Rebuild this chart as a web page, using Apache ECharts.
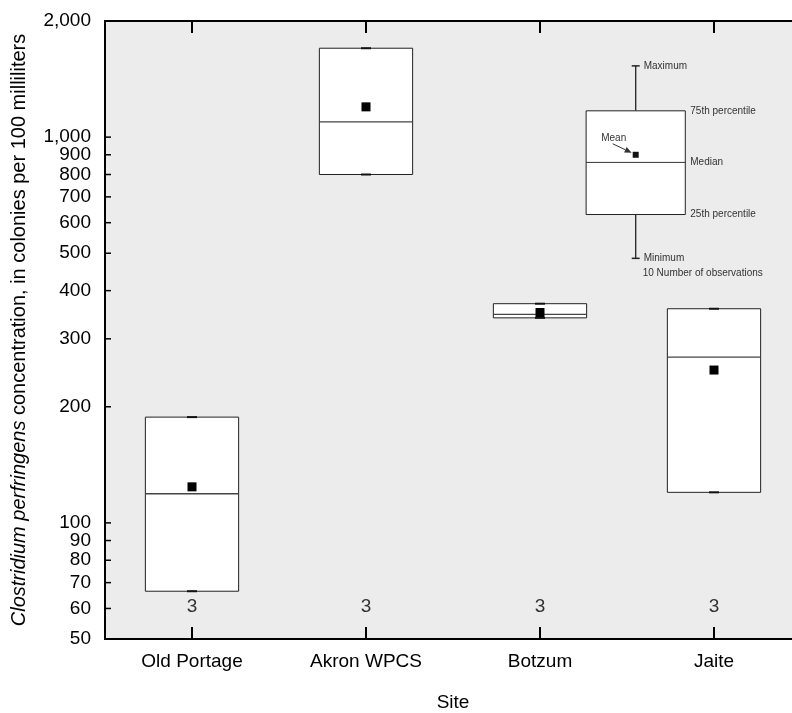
<!DOCTYPE html>
<html>
<head>
<meta charset="utf-8">
<script src="https://cdn.jsdelivr.net/npm/echarts@6/dist/echarts.min.js"></script>
<style>
  html, body { margin: 0; padding: 0; background: #fff; }
  #chart { width: 792px; height: 713px; }
</style>
</head>
<body>
<div id="chart"></div>
<script>
// sites and box statistics (colonies per 100 mL)
const sites = ['Old Portage', 'Akron WPCS', 'Botzum', 'Jaite'];
const minVals = [66.5, 800, 340, 120];
const q1Vals = [66.5, 800, 340, 120];
const medianVals = [119, 1095, 347, 269];
const q3Vals = [188, 1700, 370, 359];
const maxVals = [188, 1700, 370, 359];
const meanVals = [124, 1198, 351, 249];
const counts = [3, 3, 3, 3];

const yTicks = [50, 60, 70, 80, 90, 100, 200, 300, 400, 500, 600, 700, 800, 900, 1000, 2000];

// explanation diagram (top right)
const explainPos = [3.55];
const explainStats = [[485, 630, 860, 1170, 1530, 900, 10]];

const FONT = 'Liberation Sans, Arial, sans-serif';

const chart = echarts.init(document.getElementById('chart'));

function renderBox(params, api) {
  const x = api.value(0);
  const lo = api.value(1), q1 = api.value(2), med = api.value(3);
  const q3 = api.value(4), hi = api.value(5), mean = api.value(6), n = api.value(7);
  const half = 0.268;
  const tl = api.coord([x - half, q3]);
  const br = api.coord([x + half, q1]);
  const cx = api.coord([x, med])[0];
  const yMed = api.coord([x, med])[1];
  const yLo = api.coord([x, lo])[1];
  const yHi = api.coord([x, hi])[1];
  const pm = api.coord([x, mean]);
  const yBottom = api.coord([x, 50])[1];
  return {
    type: 'group',
    children: [
      { type: 'rect', shape: { x: tl[0], y: tl[1], width: br[0] - tl[0], height: br[1] - tl[1] },
        style: { fill: '#fff', stroke: '#222', lineWidth: 1 } },
      { type: 'line', shape: { x1: tl[0], y1: yMed, x2: br[0], y2: yMed },
        style: { stroke: '#444', lineWidth: 1.3 } },
      { type: 'line', shape: { x1: cx, y1: yHi, x2: cx, y2: tl[1] }, style: { stroke: '#111', lineWidth: 2 } },
      { type: 'line', shape: { x1: cx, y1: br[1], x2: cx, y2: yLo }, style: { stroke: '#111', lineWidth: 2 } },
      { type: 'line', shape: { x1: cx - 5, y1: yHi, x2: cx + 5, y2: yHi }, style: { stroke: '#111', lineWidth: 2 } },
      { type: 'line', shape: { x1: cx - 5, y1: yLo, x2: cx + 5, y2: yLo }, style: { stroke: '#111', lineWidth: 2 } },
      { type: 'rect', shape: { x: pm[0] - 4.5, y: pm[1] - 4.5, width: 9, height: 9 }, style: { fill: '#000' } },
      { type: 'text', style: { x: cx, y: yBottom - 32, text: String(n), fill: '#333',
        font: '19px ' + FONT, align: 'center', verticalAlign: 'middle' } }
    ]
  };
}

function renderExplain(params, api) {
  const x = api.value(0);
  const lo = api.value(1), q1 = api.value(2), med = api.value(3);
  const q3 = api.value(4), hi = api.value(5), mean = api.value(6), n = api.value(7);
  const half = 0.285;
  const tl = api.coord([x - half, q3]);
  const br = api.coord([x + half, q1]);
  const cx = api.coord([x, med])[0];
  const yMed = api.coord([x, med])[1];
  const yLo = api.coord([x, lo])[1];
  const yHi = api.coord([x, hi])[1];
  const pm = api.coord([x, mean]);
  const lbl = (tx, ty, text) => ({ type: 'text', style: { x: tx, y: ty, text: text, fill: '#333',
    font: '10px ' + FONT, align: 'left', verticalAlign: 'middle' } });
  const ax1 = pm[0] - 23, ay1 = pm[1] - 11, ax2 = pm[0] - 4, ay2 = pm[1] - 2;
  const ang = Math.atan2(ay2 - ay1, ax2 - ax1);
  const hl = 7, hw = 3;
  const bx = ax2 - hl * Math.cos(ang), by = ay2 - hl * Math.sin(ang);
  return {
    type: 'group',
    children: [
      { type: 'line', shape: { x1: cx, y1: yHi, x2: cx, y2: tl[1] }, style: { stroke: '#222', lineWidth: 1.3 } },
      { type: 'line', shape: { x1: cx, y1: br[1], x2: cx, y2: yLo }, style: { stroke: '#222', lineWidth: 1.3 } },
      { type: 'line', shape: { x1: cx - 4, y1: yHi, x2: cx + 4, y2: yHi }, style: { stroke: '#222', lineWidth: 1.5 } },
      { type: 'line', shape: { x1: cx - 4, y1: yLo, x2: cx + 4, y2: yLo }, style: { stroke: '#222', lineWidth: 1.5 } },
      { type: 'rect', shape: { x: tl[0], y: tl[1], width: br[0] - tl[0], height: br[1] - tl[1] },
        style: { fill: '#fff', stroke: '#222', lineWidth: 1 } },
      { type: 'line', shape: { x1: tl[0], y1: yMed, x2: br[0], y2: yMed }, style: { stroke: '#333', lineWidth: 1 } },
      { type: 'rect', shape: { x: pm[0] - 3, y: pm[1] - 3, width: 6, height: 6 }, style: { fill: '#111' } },
      { type: 'line', shape: { x1: ax1, y1: ay1, x2: bx, y2: by }, style: { stroke: '#333', lineWidth: 1 } },
      { type: 'polygon', shape: { points: [[ax2, ay2],
        [bx + hw * Math.sin(ang), by - hw * Math.cos(ang)],
        [bx - hw * Math.sin(ang), by + hw * Math.cos(ang)]] }, style: { fill: '#333' } },
      { type: 'text', style: { x: pm[0] - 22, y: pm[1] - 17, text: 'Mean', fill: '#333',
        font: '10px ' + FONT, align: 'center', verticalAlign: 'middle' } },
      lbl(cx + 8, yHi, 'Maximum'),
      lbl(br[0] + 5, tl[1], '75th percentile'),
      lbl(br[0] + 5, yMed, 'Median'),
      lbl(br[0] + 5, br[1], '25th percentile'),
      lbl(cx + 8, yLo, 'Minimum'),
      lbl(cx + 7, yLo + 15, n + ' Number of observations')
    ]
  };
}

// inward ticks on the log axis
function renderYTick(params, api) {
  const p = api.coord([0.5, api.value(1)]);
  return { type: 'line', shape: { x1: p[0], y1: p[1], x2: p[0] + 6, y2: p[1] },
    style: { stroke: '#000', lineWidth: 1.5 } };
}

const siteTickVals = sites.map((s, i) => i + 1);

const option = {
  animation: false,
  textStyle: { fontFamily: FONT },
  grid: {
    left: 105, top: 21, right: -9, bottom: 74,
    outerBoundsMode: 'none',
    show: true, backgroundColor: '#ececec', borderWidth: 0
  },
  xAxis: [
    {
      type: 'value', min: 0.5, max: 4.5, position: 'bottom',
      name: 'Site', nameLocation: 'middle', nameGap: 54,
      nameTextStyle: { fontSize: 19, color: '#000', fontFamily: FONT },
      axisLine: { show: true, lineStyle: { color: '#000', width: 2 } },
      axisTick: { show: true, inside: true, length: 12, customValues: siteTickVals,
        lineStyle: { color: '#000', width: 2 } },
      axisLabel: { customValues: siteTickVals, margin: 13, fontSize: 19, color: '#000', fontFamily: FONT,
        formatter: v => sites[Math.round(v) - 1] || '' },
      splitLine: { show: false }
    },
    {
      type: 'value', min: 0.5, max: 4.5, position: 'top',
      axisLine: { show: true, lineStyle: { color: '#000', width: 2 } },
      axisTick: { show: true, inside: true, length: 12, customValues: siteTickVals,
        lineStyle: { color: '#000', width: 2 } },
      axisLabel: { show: false },
      splitLine: { show: false }
    }
  ],
  yAxis: {
    type: 'log', logBase: 10, min: 50, max: 2000,
    name: '{i|Clostridium perfringens} concentration, in colonies per 100 milliliters',
    nameLocation: 'middle', nameGap: 76, nameRotate: 90,
    nameTextStyle: { fontSize: 20, color: '#000', fontFamily: FONT,
      rich: { i: { fontSize: 20, fontStyle: 'italic', color: '#000', fontFamily: FONT } } },
    axisLine: { show: true, lineStyle: { color: '#000', width: 2 } },
    axisTick: { show: false },
    axisLabel: { customValues: yTicks, margin: 14, fontSize: 19, color: '#000', fontFamily: FONT,
      formatter: v => Number(v).toLocaleString('en-US') },
    splitLine: { show: false }
  },
  series: [
    {
      type: 'custom',
      renderItem: renderYTick,
      encode: { x: 0, y: 1 },
      data: yTicks.map(v => [0.5, v]),
      z: 4
    },
    {
      type: 'custom',
      xAxisIndex: 0,
      renderItem: renderBox,
      encode: { x: 0, y: [1, 2, 3, 4, 5, 6] },
      data: sites.map((s, i) => [i + 1, minVals[i], q1Vals[i], medianVals[i], q3Vals[i], maxVals[i], meanVals[i], counts[i]]),
      z: 3
    },
    {
      type: 'custom',
      xAxisIndex: 0,
      renderItem: renderExplain,
      encode: { x: 0, y: [1, 2, 3, 4, 5, 6] },
      data: explainPos.map((p, i) => [p].concat(explainStats[i])),
      z: 3
    }
  ]
};

chart.setOption(option);
</script>
</body>
</html>
